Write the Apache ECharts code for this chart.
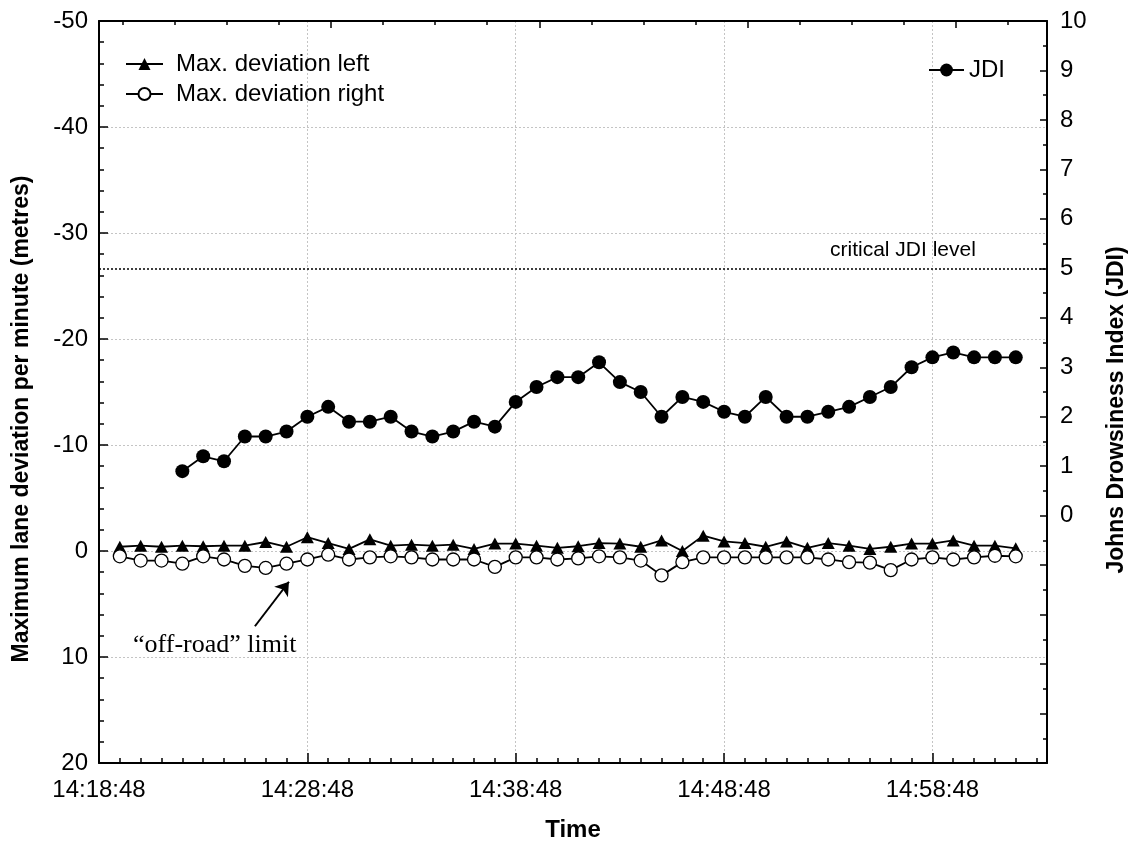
<!DOCTYPE html>
<html>
<head>
<meta charset="utf-8">
<title>Lane deviation and JDI</title>
<script src="https://cdn.jsdelivr.net/npm/echarts@6/dist/echarts.min.js"></script>
<style>
  html, body { margin: 0; padding: 0; background: #fff; }
  #chart { width: 1135px; height: 842px; }
</style>
</head>
<body>
<div id="chart"></div>
<script>
// x axis runs from startTime to endTime, values are seconds after startTime
const startTime = '14:18:48'
const endTime = '15:04:18'

const deviationTimes = [
  '14:19:48', '14:20:48', '14:21:48', '14:22:48', '14:23:48', '14:24:48', '14:25:48', '14:26:48', '14:27:48', '14:28:48',
  '14:29:48', '14:30:48', '14:31:48', '14:32:48', '14:33:48', '14:34:48', '14:35:48', '14:36:48', '14:37:48', '14:38:48',
  '14:39:48', '14:40:48', '14:41:48', '14:42:48', '14:43:48', '14:44:48', '14:45:48', '14:46:48', '14:47:48', '14:48:48',
  '14:49:48', '14:50:48', '14:51:48', '14:52:48', '14:53:48', '14:54:48', '14:55:48', '14:56:48', '14:57:48', '14:58:48',
  '14:59:48', '15:00:48', '15:01:48', '15:02:48'
]
// metres, negative = left
const deviationLeft = [
  -0.4, -0.5, -0.4, -0.5, -0.45, -0.5, -0.5, -0.85, -0.4, -1.3,
  -0.75, -0.2, -1.1, -0.5, -0.6, -0.5, -0.6, -0.2, -0.7, -0.7,
  -0.5, -0.3, -0.45, -0.75, -0.7, -0.4, -1.0, 0.0, -1.45, -0.9,
  -0.75, -0.4, -0.9, -0.3, -0.75, -0.5, -0.2, -0.4, -0.7, -0.7,
  -1.0, -0.5, -0.5, -0.25
]
const deviationRight = [
  0.5, 0.9, 0.9, 1.2, 0.5, 0.8, 1.4, 1.6, 1.2, 0.8,
  0.35, 0.8, 0.6, 0.5, 0.6, 0.8, 0.8, 0.8, 1.5, 0.6,
  0.6, 0.8, 0.7, 0.5, 0.6, 0.9, 2.3, 1.05, 0.6, 0.6,
  0.6, 0.6, 0.6, 0.6, 0.8, 1.05, 1.1, 1.8, 0.8, 0.6,
  0.8, 0.6, 0.45, 0.5
]

const jdiTimes = [
  '14:22:48', '14:23:48', '14:24:48', '14:25:48', '14:26:48', '14:27:48', '14:28:48', '14:29:48', '14:30:48', '14:31:48',
  '14:32:48', '14:33:48', '14:34:48', '14:35:48', '14:36:48', '14:37:48', '14:38:48', '14:39:48', '14:40:48', '14:41:48',
  '14:42:48', '14:43:48', '14:44:48', '14:45:48', '14:46:48', '14:47:48', '14:48:48', '14:49:48', '14:50:48', '14:51:48',
  '14:52:48', '14:53:48', '14:54:48', '14:55:48', '14:56:48', '14:57:48', '14:58:48', '14:59:48', '15:00:48', '15:01:48',
  '15:02:48'
]
const jdiValues = [
  0.9, 1.2, 1.1, 1.6, 1.6, 1.7, 2.0, 2.2, 1.9, 1.9,
  2.0, 1.7, 1.6, 1.7, 1.9, 1.8, 2.3, 2.6, 2.8, 2.8,
  3.1, 2.7, 2.5, 2.0, 2.4, 2.3, 2.1, 2.0, 2.4, 2.0,
  2.0, 2.1, 2.2, 2.4, 2.6, 3.0, 3.2, 3.3, 3.2, 3.2,
  3.2
]
const criticalJdi = 5

// the top frame has its own tick marks, not lined up with the bottom ones
const topMinorTicks = [
  '14:19:56', '14:22:26', '14:24:56', '14:27:26', '14:32:26', '14:34:56', '14:37:26',
  '14:42:26', '14:44:56', '14:47:26', '14:52:26', '14:54:56', '14:57:26', '15:02:26'
]
const topMajorTicks = ['14:29:56', '14:39:56', '14:49:56', '14:59:56']

const toSeconds = (t) => {
  const [h, m, s] = t.split(':').map(Number)
  return h * 3600 + m * 60 + s
}
const t0 = toSeconds(startTime)
const xMax = toSeconds(endTime) - t0
const rel = (t) => toSeconds(t) - t0
const pad = (n) => String(n).padStart(2, '0')
const formatTime = (v) => {
  const s = t0 + v
  return pad(Math.floor(s / 3600)) + ':' + pad(Math.floor(s / 60) % 60) + ':' + pad(s % 60)
}

const FONT = '"Liberation Sans", Arial, sans-serif'
const black = '#000'
const gridLine = { show: true, lineStyle: { color: '#c4c4c4', type: [2, 2], width: 1 } }
const frame = { show: true, onZero: false, lineStyle: { color: black, width: 2 } }

const chart = echarts.init(document.getElementById('chart'))

chart.setOption({
  animation: false,
  backgroundColor: '#fff',
  textStyle: { fontFamily: FONT, color: black },
  // keep the plot box fixed, labels may sit near the page edge
  grid: { left: 99, right: 88, top: 21, bottom: 79, containLabel: false, outerBoundsMode: 'none' },
  legend: [
    {
      data: ['Max. deviation left', 'Max. deviation right'],
      orient: 'vertical',
      left: 125,
      top: 52,
      padding: 0,
      itemWidth: 37,
      itemHeight: 15,
      itemGap: 6,
      selectedMode: false,
      textStyle: { fontSize: 24, lineHeight: 24, color: black, fontFamily: FONT, padding: [0, 0, 0, 8] }
    },
    {
      data: ['JDI'],
      left: 928,
      top: 58,
      padding: 0,
      itemWidth: 35,
      itemHeight: 16,
      selectedMode: false,
      textStyle: { fontSize: 24, lineHeight: 24, color: black, fontFamily: FONT }
    }
  ],
  xAxis: [
    {
      type: 'value',
      position: 'bottom',
      min: 0,
      max: xMax,
      interval: 600,
      name: 'Time',
      nameLocation: 'middle',
      nameGap: 55,
      nameTextStyle: { fontSize: 24, fontWeight: 'bold', color: black },
      axisLine: frame,
      axisTick: { inside: true, length: 10, lineStyle: { color: black, width: 1.5 } },
      axisLabel: {
        fontSize: 24,
        color: black,
        margin: 15,
        formatter: (v) => (v % 600 === 0 ? formatTime(v) : '')
      },
      splitLine: gridLine
    },
    {
      // one-minute ticks along the bottom
      type: 'value',
      position: 'bottom',
      min: 0,
      max: xMax,
      interval: 60,
      axisLine: { show: false, onZero: false },
      axisTick: { inside: true, length: 5, lineStyle: { color: black, width: 1.5 } },
      axisLabel: { show: false },
      splitLine: { show: false }
    },
    {
      type: 'value',
      position: 'top',
      min: 0,
      max: xMax,
      axisLine: { show: false, onZero: false },
      axisTick: { inside: true, length: 4, customValues: topMinorTicks.map(rel), lineStyle: { color: black, width: 1.5 } },
      axisLabel: { show: false },
      splitLine: { show: false }
    },
    {
      type: 'value',
      position: 'top',
      min: 0,
      max: xMax,
      axisLine: frame,
      axisTick: { inside: true, length: 7, customValues: topMajorTicks.map(rel), lineStyle: { color: black, width: 1.5 } },
      axisLabel: { show: false },
      splitLine: { show: false }
    }
  ],
  yAxis: [
    {
      type: 'value',
      position: 'left',
      min: -50,
      max: 20,
      interval: 10,
      inverse: true,
      name: 'Maximum lane deviation per minute (metres)',
      nameLocation: 'middle',
      nameRotate: 90,
      nameGap: 66,
      nameTextStyle: { fontSize: 23, fontWeight: 'bold', color: black, padding: [0, 54, 0, 0] },
      axisLine: frame,
      axisTick: { inside: true, length: 9, lineStyle: { color: black, width: 1.5 } },
      minorTick: { show: true, splitNumber: 5, length: 5, lineStyle: { color: black, width: 1.5 } },
      axisLabel: { fontSize: 24, color: black, margin: 11 },
      splitLine: gridLine
    },
    {
      type: 'value',
      position: 'right',
      min: -5,
      max: 10,
      interval: 1,
      name: 'Johns Drowsiness Index (JDI)',
      nameLocation: 'middle',
      nameRotate: 90,
      nameGap: 58,
      nameTextStyle: { fontSize: 23, fontWeight: 'bold', color: black, padding: [0, 36, 0, 0] },
      axisLine: frame,
      axisTick: { inside: true, length: 7, lineStyle: { color: black, width: 1.5 } },
      minorTick: { show: true, splitNumber: 2, length: 4, lineStyle: { color: black, width: 1.5 } },
      axisLabel: { fontSize: 24, color: black, margin: 13, formatter: (v) => (v >= 0 ? String(v) : '') },
      splitLine: { show: false }
    }
  ],
  series: [
    {
      name: 'Max. deviation left',
      type: 'line',
      xAxisIndex: 0,
      yAxisIndex: 0,
      data: deviationTimes.map((t, i) => [rel(t), deviationLeft[i]]),
      symbol: 'triangle',
      symbolSize: [13, 12],
      showAllSymbol: true,
      itemStyle: { color: black },
      lineStyle: { color: black, width: 1.8 },
      z: 3
    },
    {
      name: 'Max. deviation right',
      type: 'line',
      xAxisIndex: 0,
      yAxisIndex: 0,
      data: deviationTimes.map((t, i) => [rel(t), deviationRight[i]]),
      symbol: 'circle',
      symbolSize: 13,
      showAllSymbol: true,
      itemStyle: { color: '#fff', borderColor: black, borderWidth: 1.3 },
      lineStyle: { color: black, width: 1.8 },
      z: 4,
      // arrow pointing at the "off-road" limit
      markLine: {
        silent: true,
        symbol: ['none', 'arrow'],
        symbolSize: 13,
        label: { show: false },
        lineStyle: { color: black, width: 2, type: 'solid' },
        data: [[{ coord: [449, 7.1] }, { coord: [547, 2.9] }]]
      }
    },
    {
      name: 'JDI',
      type: 'line',
      xAxisIndex: 0,
      yAxisIndex: 1,
      data: jdiTimes.map((t, i) => [rel(t), jdiValues[i]]),
      symbol: 'circle',
      symbolSize: 14,
      showAllSymbol: true,
      itemStyle: { color: black },
      lineStyle: { color: black, width: 1.8 },
      z: 5,
      markLine: {
        silent: true,
        symbol: 'none',
        label: { show: false },
        lineStyle: { color: black, width: 1.5, type: [2, 2] },
        data: [{ yAxis: criticalJdi }]
      }
    }
  ],
  graphic: [
    {
      type: 'text',
      x: 830,
      y: 250,
      style: { text: 'critical JDI level', fill: black, fontSize: 21, fontFamily: FONT, verticalAlign: 'middle' }
    },
    {
      type: 'text',
      x: 133,
      y: 645,
      style: { text: '\u201coff-road\u201d limit', fill: black, fontSize: 26, fontFamily: '"Liberation Serif", "Times New Roman", serif', verticalAlign: 'middle' }
    }
  ]
})
</script>
</body>
</html>
